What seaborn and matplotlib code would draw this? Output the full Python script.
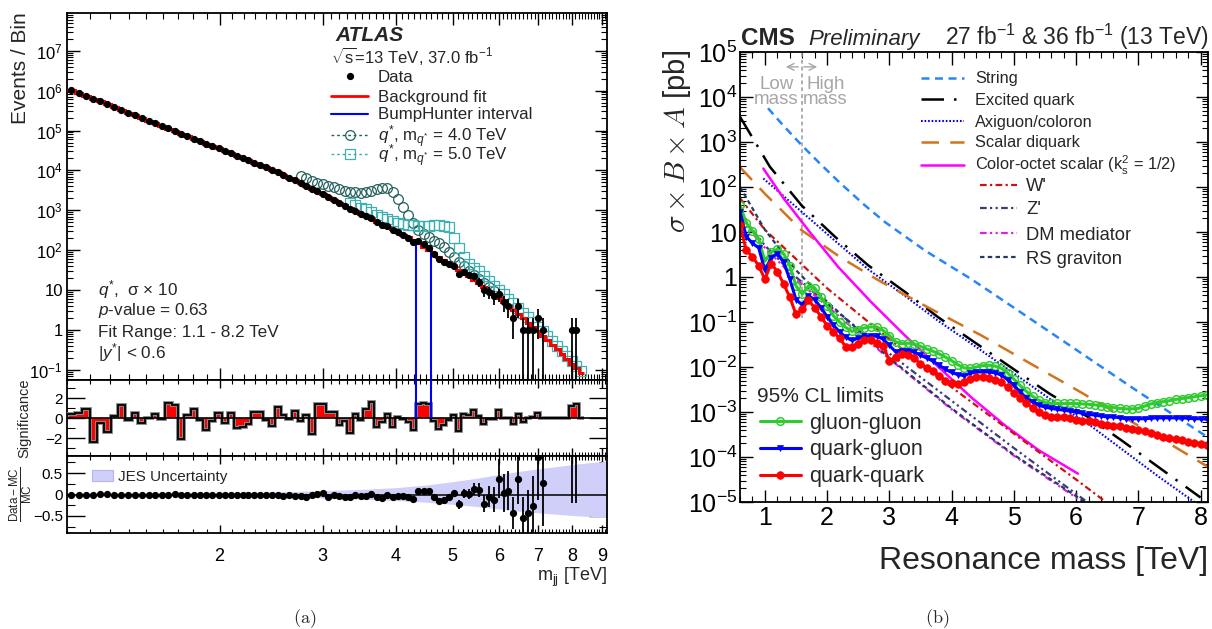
import matplotlib
matplotlib.use("Agg")
import matplotlib.pyplot as plt
import numpy as np
import pandas as pd
import seaborn as sns
from matplotlib.legend import Legend
from matplotlib.lines import Line2D
from matplotlib.patches import Patch
from matplotlib.ticker import (FixedLocator, FuncFormatter, LogLocator,
                               MultipleLocator, NullFormatter)

# ---------------- left panel: ATLAS dijet spectrum ----------------
mjj_edges = [1.100, 1.133, 1.166, 1.200, 1.234, 1.269, 1.305, 1.341, 1.378, 1.416,
             1.454, 1.493, 1.533, 1.573, 1.614, 1.656, 1.698, 1.741, 1.785, 1.830,
             1.875, 1.921, 1.968, 2.016, 2.065, 2.114, 2.164, 2.215, 2.267, 2.320,
             2.374, 2.429, 2.485, 2.542, 2.600, 2.659, 2.719, 2.780, 2.842, 2.905,
             2.969, 3.034, 3.100, 3.167, 3.235, 3.305, 3.376, 3.448, 3.521, 3.596,
             3.672, 3.749, 3.827, 3.907, 3.988, 4.070, 4.154, 4.239, 4.326, 4.414,
             4.504, 4.595, 4.688, 4.782, 4.878, 4.975, 5.074, 5.175, 5.277, 5.381,
             5.487, 5.595, 5.705, 5.817, 5.931, 6.047, 6.165, 6.285, 6.407, 6.531,
             6.658, 6.787, 6.918, 7.052, 7.188, 7.326, 7.467, 7.610, 7.756, 7.904,
             8.055, 8.208, 8.364]

bkg_fit = [1.04e6, 8.79e5, 7.43e5, 6.30e5, 5.35e5, 4.55e5, 3.87e5, 3.30e5, 2.82e5, 2.41e5,
           2.07e5, 1.77e5, 1.52e5, 1.31e5, 1.12e5, 9.70e4, 8.38e4, 7.24e4, 6.27e4, 5.42e4,
           4.71e4, 4.09e4, 3.55e4, 3.08e4, 2.69e4, 2.34e4, 2.05e4, 1.79e4, 1.56e4, 1.36e4,
           1.19e4, 1.04e4, 9130, 7830, 6640, 5620, 4770, 4060, 3450, 2930,
           2500, 2130, 1820, 1550, 1330, 1130, 970, 830, 711, 609,
           522, 448, 385, 331, 285, 245, 211, 181, 150, 123,
           102, 84.2, 69.5, 57.5, 47.6, 39.5, 32.7, 27.0, 22.2, 18.1,
           14.8, 12.0, 9.68, 7.79, 6.25, 4.99, 3.97, 3.15, 2.49, 1.96,
           1.53, 1.20, 0.930, 0.721, 0.556, 0.428, 0.328, 0.250, 0.190, 0.144,
           0.109, 0.082]

data_counts = [1040400, 879500, 743800, 628100, 534600, 454100, 387100, 330750, 281900, 241250,
               206770, 177000, 152160, 131000, 112500, 97400, 83200, 72280, 62920, 54150,
               46840, 40840, 35590, 30710, 26990, 23250, 20370, 17820, 15675, 13670,
               11880, 10320, 9240, 7860, 6635, 5672, 4750, 4082, 3356, 3006,
               2573, 2158, 1848, 1524, 1319, 1080, 984, 826, 735, 648,
               501, 440, 394, 315, 287, 243, 205, 165, 168, 140,
               117, 81, 60, 52, 46, 41, 25, 29, 24, 22,
               16, 10, 9, 7, 8, 5, 4, 2, 4, 1,
               1, 1, 2, 1, 0, 0, 0, 0, 0, 1,
               1, 0]

significance = [0.4, 0.5, 0.95, -2.4, -0.5, -1.4, 0.2, 1.3, -0.15, 0.5,
                -0.5, 0.0, 0.4, -0.05, 1.5, 1.3, -2.1, 0.3, 0.9, -0.2,
                -1.2, -0.3, 0.5, -0.5, 0.55, -1.0, -0.9, -0.6, 0.6, 0.6,
                -0.2, -0.75, 1.15, 0.35, -0.05, 0.7, -0.3, 0.35, -1.6, 1.4,
                1.45, 0.6, 0.65, -0.65, -0.3, -1.5, 0.45, -0.15, 0.9, 1.6,
                -0.9, -0.4, 0.45, -0.9, 0.1, -0.1, -0.4, -1.2, 1.45, 1.55,
                1.45, -0.3, -1.1, -0.7, -0.2, 0.3, -1.3, 0.4, 0.35, 0.8,
                0.2, -0.6, -0.1, -0.1, 0.8, 0.0, 0.0, -0.6, 0.45, -0.4,
                0.0, 0.1, 0.55, 0.0, 0.0, 0.0, 0.0, 0.0, 0.0, 1.2,
                1.4, 0.0]

nan = np.nan
ratio_vals = [0.0, 0.0, 0.0, 0.0, 0.005, 0.01, 0.0, -0.005, 0.0, 0.0,
              -0.01, -0.01, 0.0, -0.005, 0.0, 0.005, 0.0, -0.01, -0.01, 0.0,
              -0.01, -0.005, -0.01, -0.02, -0.01, -0.01, -0.015, -0.02, -0.01, -0.005,
              -0.02, -0.01, -0.02, -0.025, -0.02, -0.03, -0.025, -0.05, -0.02, 0.01,
              0.03, -0.05, 0.0, -0.03, -0.06, -0.06, -0.02, -0.04, -0.04, 0.02,
              -0.05, -0.09, 0.0, -0.06, -0.03, -0.03, -0.05, -0.11, 0.09, 0.09,
              0.08, -0.05, -0.16, -0.14, -0.06, 0.03, -0.23, 0.03, 0.02, 0.13,
              0.11, -0.22, -0.05, -0.12, 0.37, 0.03, 0.09, -0.44, 0.37, -0.55,
              -0.44, -0.26, 0.88, 0.27, nan, nan, nan, nan, nan, 3.0,
              3.0, nan]

ratio_errs = [0.004, 0.004, 0.004, 0.004, 0.004, 0.004, 0.004, 0.004, 0.004, 0.004,
              0.004, 0.004, 0.004, 0.004, 0.004, 0.004, 0.004, 0.004, 0.004, 0.004,
              0.004, 0.004, 0.004, 0.004, 0.004, 0.004, 0.004, 0.004, 0.004, 0.004,
              0.008, 0.008, 0.008, 0.008, 0.008, 0.008, 0.008, 0.008, 0.008, 0.008,
              0.015, 0.015, 0.015, 0.015, 0.015, 0.015, 0.015, 0.015, 0.015, 0.015,
              0.025, 0.025, 0.025, 0.025, 0.025, 0.025, 0.025, 0.025, 0.035, 0.04,
              0.045, 0.05, 0.06, 0.06, 0.07, 0.08, 0.1, 0.11, 0.12, 0.15,
              0.17, 0.2, 0.25, 0.3, 0.45, 0.45, 0.45, 0.37, 0.6, 0.5,
              0.55, 0.7, 1.0, 1.0, 0.0, 0.0, 0.0, 0.0, 0.0, 3.2,
              3.2, 0.0]

jes_mass = [1.1, 1.5, 2.0, 2.5, 3.0, 3.5, 4.0, 4.5, 5.0, 5.5, 6.0, 6.5, 7.0, 7.5, 8.0, 8.5, 9.2]
jes_up = [0.02, 0.025, 0.035, 0.06, 0.09, 0.12, 0.16, 0.22, 0.30, 0.38, 0.47, 0.54, 0.60, 0.65, 0.70, 0.74, 0.78]
jes_down = [-0.02, -0.025, -0.035, -0.06, -0.08, -0.11, -0.14, -0.18, -0.23, -0.28, -0.34, -0.39, -0.43, -0.46, -0.49, -0.51, -0.53]

qstar4_first_bin = 36
qstar4_counts = [7200, 6300, 5500, 4900, 4600, 4100, 3800, 3400, 3100, 2950,
                 2830, 2760, 2830, 3020, 3400, 3570, 3700, 2950, 1900, 1230,
                 760, 470, 320, 250, 210, 175, 150, 120, 92, 66,
                 52, 40, 30, 24, 19, 15, 12, 9.5]
qstar5_first_bin = 45
qstar5_counts = [1550, 1340, 1160, 1050, 900, 780, 690, 610, 540, 490,
                 455, 430, 420, 415, 410, 415, 420, 420, 415, 380,
                 200, 115, 66, 46, 36, 30, 23, 17, 13, 10,
                 7.8, 6.1, 4.7, 3.6, 2.75, 2.1, 1.6, 1.22, 0.93, 0.70,
                 0.53, 0.40, 0.30, 0.225, 0.17, 0.125, 0.092]

bump_edges = [4.326, 4.595]
bump_tops = [195, 130]

# ---------------- right panel: CMS limits (log10 of pb) ----------------
limit_mass = [0.6, 0.7, 0.8, 0.9, 1.0, 1.1, 1.2, 1.3, 1.4, 1.5,
              1.6, 1.7, 1.8, 1.9, 2.0, 2.1, 2.2, 2.3, 2.4, 2.5,
              2.6, 2.7, 2.8, 2.9, 3.0, 3.1, 3.2, 3.3, 3.4, 3.5,
              3.6, 3.7, 3.8, 3.9, 4.0, 4.1, 4.2, 4.3, 4.4, 4.5,
              4.6, 4.7, 4.8, 4.9, 5.0, 5.1, 5.2, 5.3, 5.4, 5.5,
              5.6, 5.7, 5.8, 5.9, 6.0, 6.1, 6.2, 6.3, 6.4, 6.5,
              6.6, 6.7, 6.8, 6.9, 7.0, 7.1, 7.2, 7.3, 7.4, 7.5,
              7.6, 7.7, 7.8, 7.9, 8.0, 8.1]
gg_limit = [1.6, 1.2, 1.03, 0.85, 0.35, 0.55, 0.62, 0.52, 0.25, -0.2,
            -0.38, -0.2, -0.24, -0.45, -0.65, -0.86, -1.0, -1.12, -1.21, -1.17,
            -1.13, -1.11, -1.11, -1.19, -1.3, -1.44, -1.48, -1.47, -1.49, -1.54,
            -1.6, -1.65, -1.71, -1.78, -1.86, -1.95, -2.02, -2.03, -2.0, -1.97,
            -1.96, -1.98, -2.03, -2.13, -2.27, -2.41, -2.54, -2.65, -2.74, -2.79,
            -2.81, -2.81, -2.81, -2.81, -2.81, -2.82, -2.83, -2.84, -2.86, -2.88,
            -2.9, -2.92, -2.93, -2.93, -2.92, -2.87, -2.82, -2.79, -2.77, -2.75,
            -2.72, -2.7, -2.68, -2.66, -2.64, -2.62]
qg_limit = [1.45, 0.9, 0.75, 0.65, 0.15, 0.42, 0.52, 0.33, -0.05, -0.5,
            -0.62, -0.42, -0.5, -0.68, -0.88, -1.07, -1.22, -1.34, -1.41, -1.36,
            -1.32, -1.3, -1.32, -1.38, -1.52, -1.66, -1.64, -1.64, -1.67, -1.74,
            -1.8, -1.87, -1.96, -2.05, -2.12, -2.17, -2.19, -2.14, -2.11, -2.11,
            -2.11, -2.13, -2.18, -2.28, -2.41, -2.56, -2.69, -2.78, -2.85, -2.89,
            -2.92, -2.94, -2.96, -2.98, -3.0, -3.03, -3.05, -3.07, -3.09, -3.11,
            -3.11, -3.13, -3.15, -3.15, -3.15, -3.15, -3.14, -3.13, -3.13, -3.13,
            -3.13, -3.13, -3.14, -3.15, -3.15, -3.16]
qq_limit = [1.15, 0.6, 0.45, 0.25, -0.05, 0.3, 0.12, -0.15, -0.45, -0.83,
            -0.72, -0.52, -0.68, -0.88, -1.08, -1.22, -1.36, -1.55, -1.55, -1.48,
            -1.41, -1.4, -1.46, -1.53, -1.86, -1.78, -1.7, -1.74, -1.81, -1.93,
            -2.02, -2.09, -2.19, -2.3, -2.35, -2.37, -2.33, -2.27, -2.23, -2.22,
            -2.24, -2.28, -2.34, -2.45, -2.57, -2.68, -2.8, -2.91, -3.01, -3.07,
            -3.1, -3.11, -3.12, -3.14, -3.17, -3.19, -3.21, -3.23, -3.26, -3.28,
            -3.3, -3.32, -3.35, -3.37, -3.4, -3.43, -3.47, -3.52, -3.56, -3.58,
            -3.61, -3.63, -3.66, -3.68, -3.7, -3.73]

string_mass = [1.05, 1.3, 1.59, 1.9, 2.2, 2.6, 2.93, 3.57, 4.32, 5.02, 5.93, 7.0, 8.07]
string_xs = [3.75, 3.36, 2.93, 2.5, 2.1, 1.6, 1.22, 0.59, -0.05, -0.70, -1.55, -2.55, -3.52]
exq_mass = [0.6, 1.08, 1.59, 2.13, 2.66, 3.25, 3.78, 4.4, 5.02, 5.57, 6.19, 6.73, 7.32, 7.91, 8.0]
exq_xs = [3.56, 2.45, 1.59, 0.89, 0.26, -0.33, -0.89, -1.48, -2.07, -2.59, -3.11, -3.63, -4.22, -4.81, -4.9]
axi_mass = [0.975, 1.59, 2.13, 2.66, 3.25, 3.78, 4.4, 5.02, 5.57, 6.19, 6.73, 7.32, 7.9]
axi_xs = [2.19, 1.45, 0.80, 0.17, -0.42, -0.97, -1.56, -2.16, -2.70, -3.26, -3.82, -4.43, -5.0]
diq_mass = [0.6, 1.0, 1.59, 2.2, 2.82, 3.6, 4.48, 5.3, 6.0, 6.62, 7.4, 8.12]
diq_xs = [2.44, 1.85, 1.04, 0.45, -0.07, -0.66, -1.3, -1.95, -2.5, -3.0, -3.62, -4.22]
cos_mass = [0.975, 1.3, 1.72, 2.18, 2.71, 3.25, 3.79, 4.32, 4.86, 5.4, 6.03]
cos_xs = [2.41, 1.75, 1.0, 0.22, -0.56, -1.3, -2.0, -2.68, -3.3, -3.85, -4.37]
wp_mass = [0.6, 1.0, 1.5, 2.0, 3.0, 4.0, 5.0, 6.0, 6.48]
wp_xs = [1.75, 1.05, 0.4, -0.25, -1.38, -2.45, -3.48, -4.5, -5.0]
zp_mass = [0.6, 1.0, 1.5, 2.0, 3.0, 4.0, 5.0, 6.0, 6.18]
zp_xs = [1.4, 0.7, 0.0, -0.6, -1.7, -2.75, -3.8, -4.82, -5.0]
dm_mass = [0.6, 1.0, 1.5, 2.0, 3.0, 4.0, 5.0, 6.0, 6.1]
dm_xs = [1.3, 0.65, -0.05, -0.65, -1.82, -2.94, -3.97, -4.9, -5.0]
rs_mass = [0.6, 1.0, 1.5, 2.0, 3.0, 4.0, 5.0, 6.0, 6.14]
rs_xs = [2.0, 1.05, 0.15, -0.55, -1.8, -2.92, -3.95, -4.87, -5.0]

boundary_mass = 1.6
boundary_low_pb = 0.12

# ---------------- style ----------------
sns.set_theme(style="ticks")
plt.rcParams["font.family"] = ["Liberation Sans", "DejaVu Sans"]
plt.rcParams["mathtext.fontset"] = "custom"
plt.rcParams["mathtext.rm"] = "Liberation Sans"
plt.rcParams["mathtext.it"] = "Liberation Sans:italic"
plt.rcParams["mathtext.bf"] = "Liberation Sans:bold"
plt.rcParams["axes.linewidth"] = 1.3
plt.rcParams["axes.edgecolor"] = "black"
plt.rcParams["xtick.color"] = "black"
plt.rcParams["ytick.color"] = "black"

fig = plt.figure(figsize=(12.12, 6.29), dpi=100)


def box(x0, y0, x1, y1):
    return [x0 / 1212, 1 - y1 / 629, (x1 - x0) / 1212, (y1 - y0) / 629]


def root_ticks(ax, axis, major, minor, size=None, pad=3):
    ax.tick_params(axis=axis, which="both", direction="in", top=True, right=True)
    ax.tick_params(axis=axis, which="major", length=major, width=1.0, pad=pad)
    ax.tick_params(axis=axis, which="minor", length=minor, width=0.8)
    if size:
        ax.tick_params(axis=axis, which="major", labelsize=size)


def log_label(v, pos):
    e = int(round(np.log10(v)))
    if e == 0:
        return "1"
    if e == 1:
        return "10"
    return r"$10^{%d}$" % e


def legend_rows(ax, handles, labels, x, ys, **kws):
    # one small legend per row, so every row sits where the reference puts it
    for h, lab, y in zip(handles, labels, ys):
        leg = Legend(ax, [h], [lab], loc="center left", bbox_to_anchor=(x, y),
                     frameon=False, borderpad=0, borderaxespad=0, **kws)
        ax.add_artist(leg)


ax_main = fig.add_axes(box(67, 13, 607, 380))
ax_sig = fig.add_axes(box(67, 380, 607, 456), sharex=ax_main)
ax_rat = fig.add_axes(box(67, 456, 607, 533), sharex=ax_main)
ax_r = fig.add_axes(box(740, 52, 1208, 502))

edges = np.array(mjj_edges)
centers = np.sqrt(edges[:-1] * edges[1:])
counts = np.array(data_counts, dtype=float)

c_q4 = "#24625e"
c_q5 = "#3fb0b0"

# main spectrum
ax_main.set_xscale("log")
ax_main.set_yscale("log")
main_ylim = (0.056, 8.8e7)
ax_main.stairs(bkg_fit, edges, color="red", lw=2.2, baseline=None, zorder=3)
ax_main.vlines(bump_edges, main_ylim[0], bump_tops, color="blue", lw=1.5, zorder=4)
ax_main.plot(centers[qstar4_first_bin:qstar4_first_bin + len(qstar4_counts)], qstar4_counts,
             ls="none", marker="o", ms=7, mfc="none", mec=c_q4, mew=0.9, zorder=2)
ax_main.plot(centers[qstar5_first_bin:qstar5_first_bin + len(qstar5_counts)], qstar5_counts,
             ls="none", marker="s", ms=6.5, mfc="none", mec=c_q5, mew=0.9, zorder=2)
has = counts > 0
ax_main.errorbar(centers[has], counts[has], yerr=np.sqrt(counts[has]), fmt="o", color="black",
                 ms=4.2, elinewidth=1.3, capsize=0, zorder=5)
ax_main.set_ylim(*main_ylim)
ax_main.set_xlim(1.098, 9.17)
ax_main.yaxis.set_major_locator(LogLocator(base=10, numticks=20))
ax_main.yaxis.set_minor_locator(LogLocator(base=10, subs=np.arange(2, 10), numticks=20))
ax_main.yaxis.set_major_formatter(FuncFormatter(log_label))
ax_main.yaxis.set_minor_formatter(NullFormatter())
ax_main.xaxis.set_major_locator(FixedLocator([2, 3, 4, 5, 6, 7, 8, 9]))
ax_main.xaxis.set_minor_locator(FixedLocator([v / 10 for v in range(11, 92) if v % 10]))
ax_main.xaxis.set_major_formatter(FuncFormatter(lambda v, p: "%d" % round(v)))
ax_main.xaxis.set_minor_formatter(NullFormatter())
root_ticks(ax_main, "x", 8.5, 4.5)
root_ticks(ax_main, "y", 9, 4.5, size=12)
ax_main.tick_params(axis="x", labelbottom=False)
ax_main.set_ylabel("Events / Bin", fontsize=15, loc="top")
ax_main.yaxis.set_label_coords(-0.0694, 1.003)

ax_main.text(0.498, 0.9245, "ATLAS", transform=ax_main.transAxes, fontsize=15,
             fontweight="bold", style="italic", va="baseline")
ax_main.text(0.489, 0.863, r"$\sqrt{\mathrm{s}}$=13 TeV, 37.0 fb$^{-1}$",
             transform=ax_main.transAxes, fontsize=12, va="baseline")
for ty, txt in zip([0.2316, 0.177, 0.1163, 0.059],
                   [r"$q^{*}$,  σ × 10", r"$p$-value = 0.63",
                    "Fit Range: 1.1 - 8.2 TeV", r"|$y^{*}$| < 0.6"]):
    ax_main.text(0.0574, ty, txt, transform=ax_main.transAxes, fontsize=12.3, va="baseline")

left_handles = [
    Line2D([], [], ls="none", marker="o", color="black", ms=4.2),
    Line2D([], [], color="red", lw=2),
    Line2D([], [], color="blue", lw=1.5),
    Line2D([], [], color=c_q4, lw=1, ls=(0, (2, 2)), marker="o", ms=7, mfc="none", mew=0.9),
    Line2D([], [], color=c_q5, lw=1, ls=(0, (2, 2)), marker="s", ms=6.5, mfc="none", mew=0.9),
]
left_labels = ["Data", "Background fit", "BumpHunter interval",
               r"$q^{*}$, m$_{q^{*}}$ = 4.0 TeV", r"$q^{*}$, m$_{q^{*}}$ = 5.0 TeV"]
legend_rows(ax_main, left_handles, left_labels, 0.489,
            [0.8256, 0.7711, 0.7221, 0.6636, 0.6118],
            fontsize=12.2, handlelength=2.2, handletextpad=0.55)

# significance
ax_sig.stairs(significance, edges, fill=True, color="red", baseline=0, zorder=2)
ax_sig.stairs(significance, edges, color="#8a8a8a", lw=2.8, baseline=0, zorder=3)
ax_sig.stairs(significance, edges, color="black", lw=1.3, baseline=0, zorder=4)
ax_sig.axhline(0, color="black", lw=1.2, zorder=3)
sig_ylim = (-3.8, 3.8)
ax_sig.vlines(bump_edges, 0, sig_ylim[1], color="blue", lw=1.5, zorder=5)
ax_sig.set_ylim(*sig_ylim)
ax_sig.yaxis.set_major_locator(FixedLocator([-2, 0, 2]))
ax_sig.yaxis.set_minor_locator(FixedLocator([-3, -1, 1, 3]))
ax_sig.yaxis.set_major_formatter(FuncFormatter(lambda v, p: "\u22122" if v < 0 else "%d" % v))
root_ticks(ax_sig, "x", 6, 3)
root_ticks(ax_sig, "y", 13, 6, size=11)
ax_sig.tick_params(axis="x", labelbottom=False)
ax_sig.set_ylabel("Significance", fontsize=10.5)
ax_sig.yaxis.set_label_coords(-0.066, 0.5)

# ratio
ax_rat.fill_between(jes_mass, jes_down, jes_up, color="#cfcff9", lw=0, zorder=1)
ax_rat.axhline(0, color="black", lw=1.1, zorder=2)
ax_rat.errorbar(centers, ratio_vals, yerr=ratio_errs, fmt="o", color="black", ms=4.2,
                elinewidth=1.3, capsize=0, zorder=3)
ax_rat.set_ylim(-0.9, 0.9)
ax_rat.yaxis.set_major_locator(FixedLocator([-0.5, 0, 0.5]))
ax_rat.yaxis.set_minor_locator(FixedLocator([-0.75, -0.25, 0.25, 0.75]))
ax_rat.yaxis.set_major_formatter(FuncFormatter(lambda v, p: "\u22120.5" if v < 0 else ("0" if v == 0 else "0.5")))
root_ticks(ax_rat, "x", 6, 3, size=13, pad=11)
root_ticks(ax_rat, "y", 13, 6, size=11)
ax_rat.set_ylabel(r"$\frac{\mathrm{Data-MC}}{\mathrm{MC}}$", fontsize=12)
ax_rat.yaxis.set_label_coords(-0.059, 0.5)
ax_rat.set_xlabel(r"m$_{\mathrm{jj}}$ [TeV]", fontsize=13, loc="right")
ax_rat.xaxis.set_label_coords(1.0, -0.43)
legend_rows(ax_rat, [Patch(facecolor="#cfcff9", edgecolor="#b4b4f0", lw=0.8)], ["JES Uncertainty"],
            0.046, [0.73], fontsize=11, handlelength=1.4, handleheight=0.8, handletextpad=0.3)

# ---------------- right panel ----------------
ax_r.set_yscale("log")


def curve(ax, mass, log10xs, **kws):
    df = pd.DataFrame({"mass": mass, "xs": np.power(10.0, log10xs)})
    sns.lineplot(data=df, x="mass", y="xs", ax=ax, estimator=None, errorbar=None,
                 sort=False, legend=False, **kws)
    return ax.lines[-1]


h_string = curve(ax_r, string_mass, string_xs, color="#2a85f5", lw=1.8, linestyle=(0, (3.2, 2.2)))
h_exq = curve(ax_r, exq_mass, exq_xs, color="black", lw=1.8, linestyle=(0, (9, 4, 1, 4)))
h_axi = curve(ax_r, axi_mass, axi_xs, color="#0000ee", lw=1.5, linestyle=(0, (0.8, 0.9)))
h_diq = curve(ax_r, diq_mass, diq_xs, color="#d2731e", lw=1.8, linestyle=(0, (7, 4.5)))
h_cos = curve(ax_r, cos_mass, cos_xs, color="#ff00ff", lw=1.8)
h_wp = curve(ax_r, wp_mass, wp_xs, color="#d01010", lw=1.6, linestyle=(0, (3, 1.5, 1, 1.5)))
h_zp = curve(ax_r, zp_mass, zp_xs, color="#3c3c7a", lw=1.6, linestyle=(0, (3, 1.5, 1, 1.5, 1, 1.5)))
h_dm = curve(ax_r, dm_mass, dm_xs, color="#e020e0", lw=1.6, linestyle=(0, (3, 1.5, 1, 1.5, 1, 1.5)))
h_rs = curve(ax_r, rs_mass, rs_xs, color="#1e3c64", lw=1.6, linestyle=(0, (2, 1.5)))

h_gg = curve(ax_r, limit_mass, gg_limit, color="#2ecc2e", lw=2.2, marker="o", markersize=5.5,
             markerfacecolor="none", markeredgecolor="#2ecc2e", markeredgewidth=1.1)
h_qg = curve(ax_r, limit_mass, qg_limit, color="#0000ff", lw=2.2, marker="v", markersize=5,
             markerfacecolor="#0000ff", markeredgecolor="#0000ff", markeredgewidth=0.5)
h_qq = curve(ax_r, limit_mass, qq_limit, color="#ff0000", lw=2.2, marker="o", markersize=5.5,
             markerfacecolor="#ff0000", markeredgecolor="#ff0000", markeredgewidth=0.5)

ax_r.axvline(boundary_mass, ymin=(np.log10(boundary_low_pb) + 5) / 10, ymax=1,
             color="#999999", lw=1.1, ls=(0, (2.5, 2)), zorder=1)
gray = "#a6a6a6"
ax_r.text(0.078, 0.9187, "Low", transform=ax_r.transAxes, fontsize=13.5, color=gray,
          ha="center", va="baseline")
ax_r.text(0.078, 0.8853, "mass", transform=ax_r.transAxes, fontsize=13.5, color=gray,
          ha="center", va="baseline")
ax_r.text(0.183, 0.9187, "High", transform=ax_r.transAxes, fontsize=13.5, color=gray,
          ha="center", va="baseline")
ax_r.text(0.182, 0.8853, "mass", transform=ax_r.transAxes, fontsize=13.5, color=gray,
          ha="center", va="baseline")
ax_r.annotate("", xy=(0.092, 0.967), xytext=(0.1303, 0.967), xycoords="axes fraction",
              arrowprops=dict(arrowstyle="->", color=gray, lw=1.0))
ax_r.annotate("", xy=(0.171, 0.967), xytext=(0.1303, 0.967), xycoords="axes fraction",
              arrowprops=dict(arrowstyle="->", color=gray, lw=1.0))

ax_r.set_xlim(0.6, 8.12)
ax_r.set_ylim(1e-5, 1e5)
ax_r.xaxis.set_major_locator(MultipleLocator(1))
ax_r.xaxis.set_minor_locator(MultipleLocator(0.2))
ax_r.xaxis.set_major_formatter(FuncFormatter(lambda v, p: "%d" % round(v)))
ax_r.yaxis.set_major_locator(LogLocator(base=10, numticks=20))
ax_r.yaxis.set_minor_locator(LogLocator(base=10, subs=np.arange(2, 10), numticks=20))
ax_r.yaxis.set_major_formatter(FuncFormatter(log_label))
ax_r.yaxis.set_minor_formatter(NullFormatter())
root_ticks(ax_r, "x", 9, 4.5, size=18, pad=3)
root_ticks(ax_r, "y", 9, 4.5, size=18, pad=2)
ax_r.set_xlabel("Resonance mass [TeV]", fontsize=23, loc="right")
ax_r.xaxis.set_label_coords(1.0, -0.098)
ax_r.set_ylabel(r"$\sigma\times B\times A$ [pb]", fontsize=21, loc="top", math_fontfamily="cm")
ax_r.yaxis.set_label_coords(-0.1004, 1.005)

legend_rows(ax_r, [h_string, h_exq, h_axi, h_diq, h_cos],
            ["String", "Excited quark", "Axiguon/coloron", "Scalar diquark",
             r"Color-octet scalar (k$_\mathrm{s}^{2}$ = 1/2)"],
            0.387, [0.94, 0.8933, 0.8444, 0.7978, 0.7470],
            fontsize=11.8, handlelength=2.6, handletextpad=0.7)
legend_rows(ax_r, [h_wp, h_zp, h_dm, h_rs], ["W'", "Z'", "DM mediator", "RS graviton"],
            0.513, [0.7007, 0.6489, 0.5933, 0.5393],
            fontsize=13.2, handlelength=2.0, handletextpad=0.5)
ax_r.text(0.0363, 0.234, "95% CL limits", transform=ax_r.transAxes, fontsize=15, va="center")
legend_rows(ax_r, [h_gg, h_qg, h_qq], ["gluon-gluon", "quark-gluon", "quark-quark"],
            0.0427, [0.1748, 0.1156, 0.0556],
            fontsize=15.5, handlelength=1.9, handletextpad=0.4)

fig.text(740.5 / 1212, 1 - 45 / 629, "CMS", fontsize=17.5, fontweight="bold", va="baseline")
fig.text(808.8 / 1212, 1 - 45 / 629, "Preliminary", fontsize=16, style="italic", va="baseline")
fig.text(1209 / 1212, 1 - 45 / 629, r"27 fb$^{-1}$ & 36 fb$^{-1}$ (13 TeV)", fontsize=16.5,
         ha="right", va="baseline")

fig.text(305 / 1212, 1 - 619 / 629, r"$\mathrm{(a)}$", fontsize=13, ha="center", va="center",
         math_fontfamily="cm")
fig.text(937 / 1212, 1 - 619 / 629, r"$\mathrm{(b)}$", fontsize=13, ha="center", va="center",
         math_fontfamily="cm")

fig.savefig("out.png", dpi=100)
